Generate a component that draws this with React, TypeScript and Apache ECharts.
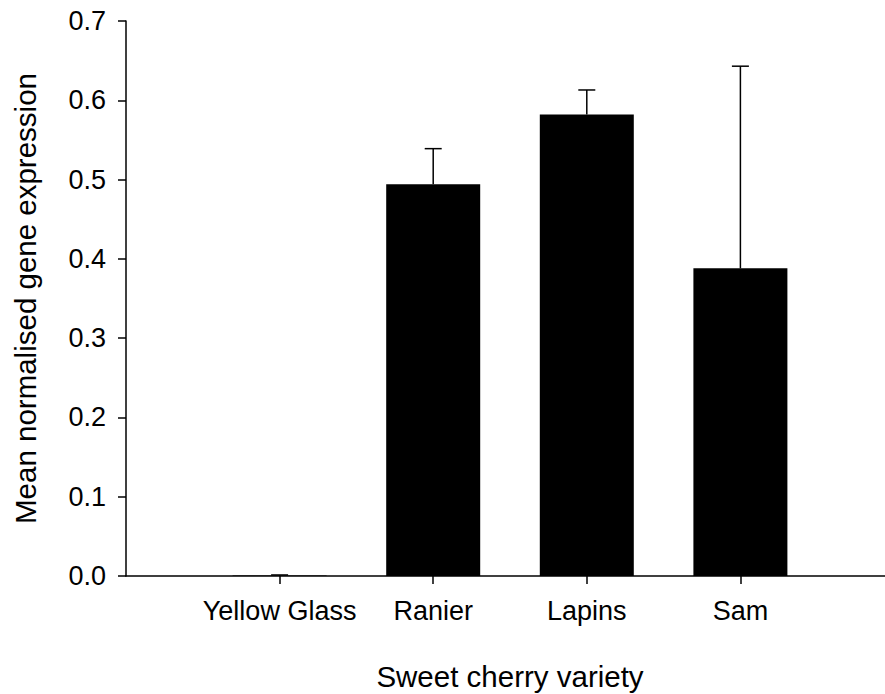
import React, { useEffect, useRef } from "react";
import * as echarts from "echarts";

const categories = ["Yellow Glass", "Ranier", "Lapins", "Sam"];
const meanValues = [0.0005, 0.494, 0.582, 0.388];
const errorValues = [0.0008, 0.045, 0.031, 0.255];
const yTicks = [0, 0.1, 0.2, 0.3, 0.4, 0.5, 0.6, 0.7];
const xTitle = "Sweet cherry variety";
const yTitle = "Mean normalised gene expression";

export default function App() {
  const ref = useRef<HTMLDivElement>(null);
  useEffect(() => {
    if (!ref.current) return;
    const chart = echarts.init(ref.current, null, { renderer: "svg" });
    const axisData = ["", ...categories, ""];
    const barData = ["-", ...meanValues, "-"];
    const errData = categories.map((_, i) => [i + 1, meanValues[i], meanValues[i] + errorValues[i]]);
    const font = "'Liberation Sans', Arial, Helvetica, sans-serif";
    chart.setOption({
      animation: false,
      backgroundColor: "#ffffff",
      grid: {
        left: 126,
        top: 21,
        width: 768,
        height: 555,
        containLabel: false,
        outerBoundsMode: "none",
      },
      xAxis: {
        type: "category",
        data: axisData,
        boundaryGap: false,
        name: xTitle,
        nameLocation: "middle",
        nameGap: 85,
        nameTextStyle: { fontFamily: font, fontSize: 29.5, color: "#000" },
        axisLine: { show: true, lineStyle: { color: "#000", width: 1.5 } },
        axisTick: {
          show: true,
          length: 8,
          interval: (index: number, value: string) => value !== "",
          lineStyle: { color: "#000", width: 1.5 },
        },
        axisLabel: {
          interval: 0,
          margin: 21,
          fontFamily: font,
          fontSize: 27,
          color: "#000",
        },
        splitLine: { show: false },
      },
      yAxis: {
        type: "value",
        min: yTicks[0],
        max: yTicks[yTicks.length - 1],
        interval: 0.1,
        name: yTitle,
        nameLocation: "middle",
        nameGap: 86,
        nameTextStyle: { fontFamily: font, fontSize: 29.5, color: "#000" },
        axisLine: { show: true, lineStyle: { color: "#000", width: 1.5 } },
        axisTick: { show: true, length: 8, lineStyle: { color: "#000", width: 1.5 } },
        axisLabel: {
          margin: 20,
          fontFamily: font,
          fontSize: 27,
          color: "#000",
          formatter: (v: number) => v.toFixed(1),
        },
        splitLine: { show: false },
      },
      series: [
        {
          type: "bar",
          data: barData,
          barWidth: 94,
          itemStyle: { color: "#000" },
          z: 2,
        },
        {
          type: "custom",
          z: 3,
          data: errData,
          encode: { x: 0, y: [1, 2] },
          renderItem: (params: any, api: any) => {
            const x = api.value(0);
            const base = api.coord([x, api.value(1)]);
            const top = api.coord([x, api.value(2)]);
            const hw = 8.5;
            const style = { stroke: "#000", lineWidth: 1.5 };
            return {
              type: "group",
              children: [
                { type: "line", shape: { x1: base[0], y1: base[1], x2: top[0], y2: top[1] }, style },
                { type: "line", shape: { x1: top[0] - hw, y1: top[1], x2: top[0] + hw, y2: top[1] }, style },
              ],
            };
          },
        },
      ],
    });
    return () => chart.dispose();
  }, []);
  return (
    <div
      ref={ref}
      style={{ position: "absolute", left: 0, top: 0, width: 885, height: 694 }}
    />
  );
}
